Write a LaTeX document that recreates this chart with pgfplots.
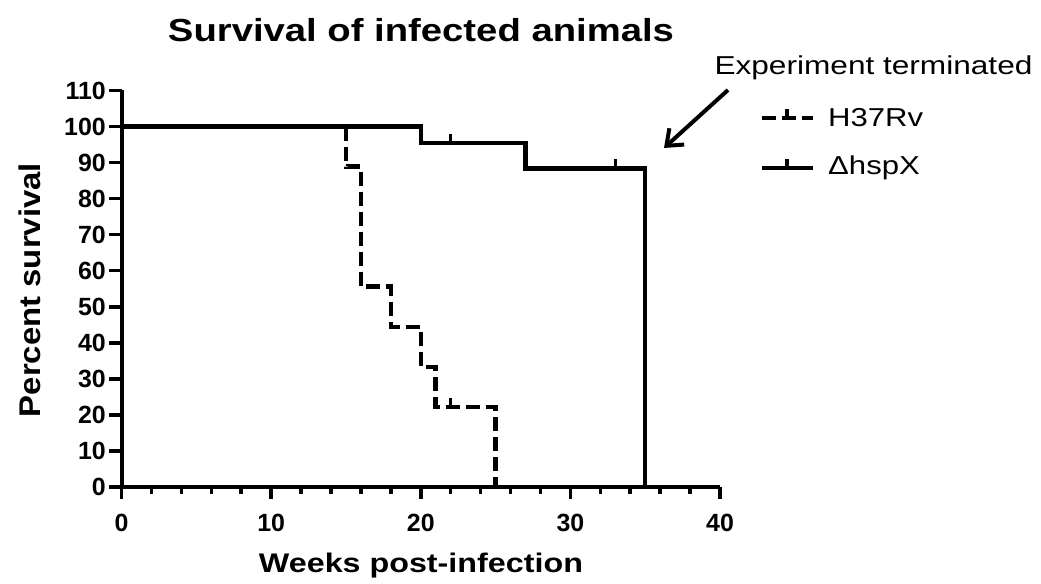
\documentclass[border=0pt]{standalone}
\usepackage{fontspec}
\setmainfont{Liberation Sans}
\usepackage{graphicx}
\usepackage{pgfplots}
\pgfplotsset{compat=1.18}
\usetikzlibrary{arrows.meta}
\pgfdeclareplotmark{cens}{\pgfpathmoveto{\pgfqpoint{0pt}{0pt}}\pgfpathlineto{\pgfqpoint{0pt}{\pgfplotmarksize}}\pgfusepathqstroke}
\newcommand{\sx}[1]{\scalebox{1.2}[1]{#1}}
\newcommand{\st}[1]{\scalebox{1.0}[1]{#1}}
\begin{document}
\begin{tikzpicture}[x=1bp,y=1bp]
\useasboundingbox (0,0) rectangle (1041,584);
\begin{axis}[
  at={(121.5bp,97bp)}, anchor=south west,
  scale only axis, width=598.5bp, height=396.5bp,
  xmin=0, xmax=40, ymin=0, ymax=110,
  axis x line*=bottom, axis y line*=left,
  axis line style={line width=4bp},
  xtick={0,10,20,30,40}, minor x tick num=4,
  ytick={0,10,...,110},
  tick align=outside, major tick length=12bp, minor tick length=7bp,
  every tick/.style={black, line width=3.5bp},
  /pgf/number format/assume math mode=true,
  xticklabel={\st{\pgfmathprintnumber{\tick}}},
  yticklabel={\st{\pgfmathprintnumber{\tick}}},
  x tick label style={font=\fontsize{25}{29}\selectfont\bfseries, anchor=north, inner sep=0pt, yshift=-15bp},
  y tick label style={font=\fontsize{25}{29}\selectfont\bfseries, anchor=east, inner sep=0pt, xshift=-3.5bp},
  clip=false,
]
\addplot[black, line width=4.5bp, dash pattern=on 14bp off 6bp] coordinates {
 (15,100) (15,88.9) (16,88.9) (16,55.6) (18,55.6) (18,44.4) (20,44.4) (20,33.3)
 (21,33.3) (21,22.2) (25,22.2) (25,0)};
\addplot[black, line width=4.5bp] coordinates {
 (0,100) (20,100) (20,95.5) (27,95.5) (27,88.4) (35,88.4) (35,0)};
\addplot[only marks, mark=cens, mark size=9bp, mark options={line width=3.5bp, black}] coordinates {
 (22,22.2) (22,95.5) (33,88.4)};
\end{axis}
% title and labels
\node[font=\fontsize{32}{38}\selectfont\bfseries] at (421,554) {\sx{Survival of infected animals}};
\node[font=\fontsize{27}{32}\selectfont\bfseries] at (421,18) {\sx{Weeks post-infection}};
\node[font=\fontsize{30}{36}\selectfont\bfseries, rotate=90] at (30,294) {\scalebox{1.1}[1]{Percent survival}};
% annotation
\node[font=\fontsize{26}{31}\selectfont] at (873.5,516) {\scalebox{1.22}[1]{Experiment terminated}};
\draw[-{Straight Barb[length=14bp,width=22bp]}, line width=4bp] (728,494) -- (664,436);
% legend
\draw[black, line width=4.5bp, dash pattern=on 14bp off 6bp] (762,466) -- (813,466);
\draw[black, line width=3.5bp] (787,466) -- (787,475);
\node[font=\fontsize{26}{31}\selectfont, anchor=west, inner sep=0pt] at (828,466) {\sx{H37Rv}};
\draw[black, line width=4.5bp] (762,416) -- (813,416);
\draw[black, line width=3.5bp] (787,416) -- (787,425);
\node[font=\fontsize{26}{31}\selectfont, anchor=west, inner sep=0pt] at (828,416) {\sx{ΔhspX}};
\end{tikzpicture}
\end{document}
